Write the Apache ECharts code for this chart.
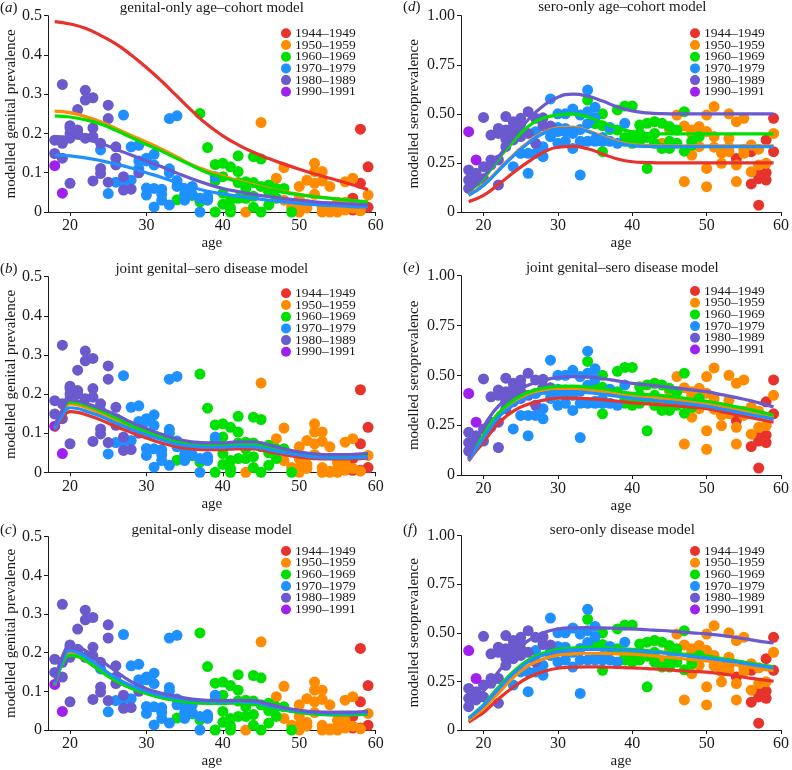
<!DOCTYPE html>
<html><head><meta charset="utf-8">
<script src="https://cdn.jsdelivr.net/npm/echarts@6/dist/echarts.min.js"></script>
<style>html,body{margin:0;padding:0;background:#fff}#c{width:792px;height:770px}</style>
</head><body><div id="c"></div>
<script>
// ---------- categories / ticks ----------
const cohorts = ['1944–1949','1950–1959','1960–1969','1970–1979','1980–1989','1990–1991'];
const cohortColors = ['#e8322c','#ff8c00','#00e000','#1e90ff','#6a5acd','#a020f0'];
const xTicks = [20,30,40,50,60];
const yTicksGenital = [0,0.1,0.2,0.3,0.4,0.5];
const yTicksSero = [0,0.25,0.5,0.75,1];

// ---------- observed genital prevalence (age, value) ----------
const g1944 = [[58,0.211],[59,0.115],[58,0.073],[57,0.035],[59,0.012],[58,0.005],[57,0.005]];
const g1950 = [[45,0.228],[47,0.086],[48,0.113],[48,0.03],[50,0.065],[50,0.035],[50,0.012],[51,0.081],[51,0.02],[51,0.01],[52,0.124],[52,0.103],[52,0.073],[52,0.045],[53,0.103],[53,0.079],[53,0.012],[54,0.065],[54,0.003],[55,0.025],[55,0.01],[56,0.077],[56,0.025],[57,0.086],[57,0.01],[58,0.003],[59,0.043],[43,0.0],[46,0.055],[49,0.012],[54,0.0],[56,0.005],[53,0.0],[55,0.0],[50,0.0]];
const g1960 = [[37,0.251],[38,0.164],[39,0.121],[40,0.124],[41,0.115],[42,0.143],[42,0.103],[44,0.141],[45,0.135],[34,0.031],[37,0.026],[36,0.042],[38,0.035],[39,0.0],[40,0.09],[40,0.048],[40,0.02],[41,0.03],[41,0.01],[41,0.0],[42,0.075],[42,0.035],[43,0.077],[43,0.035],[44,0.075],[44,0.012],[45,0.065],[45,0.0],[46,0.069],[46,0.018],[47,0.06],[47,0.035],[48,0.06],[49,0.0],[39,0.08],[43,0.06],[44,0.04],[46,0.05]];
const g1970 = [[27,0.247],[33,0.238],[34,0.245],[28,0.166],[29,0.17],[24,0.158],[30,0.137],[31,0.147],[31,0.12],[29,0.111],[30,0.13],[26,0.076],[27,0.077],[28,0.081],[25,0.047],[30,0.061],[30,0.043],[31,0.013],[32,0.058],[32,0.045],[32,0.03],[33,0.11],[33,0.1],[33,0.018],[34,0.08],[34,0.065],[35,0.06],[35,0.03],[36,0.065],[36,0.045],[37,0.035],[37,0.0],[38,0.04],[38,0.03],[39,0.09],[35,0.045],[29,0.13],[31,0.06]];
const g1980 = [[19,0.325],[22,0.31],[22,0.285],[23,0.291],[21,0.261],[25,0.272],[25,0.238],[20,0.22],[20,0.214],[21,0.209],[23,0.214],[18,0.183],[19,0.175],[20,0.188],[22,0.188],[23,0.192],[24,0.175],[26,0.166],[18,0.149],[19,0.137],[26,0.137],[26,0.12],[24,0.111],[24,0.098],[20,0.073],[23,0.079],[25,0.076],[27,0.056],[28,0.058],[29,0.1],[27,0.09],[21,0.2],[20,0.2]];
const g1990 = [[18,0.118],[19,0.048]];

// ---------- observed seroprevalence (age, value) ----------
const s1944 = [[59,0.477],[59,0.307],[58,0.367],[58,0.2],[58,0.163],[57,0.17],[57,0.19],[57,0.035],[56,0.307],[56,0.143],[54,0.273]];
const s1950 = [[43,0.46],[46,0.494],[47,0.438],[48,0.418],[49,0.435],[51,0.537],[50,0.494],[54,0.46],[55,0.477],[53,0.5],[47,0.155],[50,0.129],[50,0.222],[48,0.29],[49,0.333],[51,0.384],[52,0.316],[52,0.248],[53,0.375],[53,0.307],[54,0.239],[54,0.155],[55,0.299],[56,0.341],[56,0.205],[57,0.239],[58,0.248],[59,0.4],[44,0.35],[45,0.42],[49,0.4],[50,0.41],[51,0.33],[52,0.3],[53,0.33],[55,0.32],[57,0.32],[48,0.4]];
const s1960 = [[34,0.57],[36,0.5],[38,0.52],[39,0.54],[40,0.54],[41,0.443],[42,0.452],[43,0.46],[44,0.452],[45,0.435],[46,0.418],[47,0.511],[36,0.307],[42,0.222],[38,0.418],[40,0.35],[41,0.4],[43,0.35],[44,0.324],[45,0.324],[46,0.35],[47,0.31],[48,0.36],[49,0.384],[37,0.42],[39,0.38],[40,0.39],[42,0.38],[35,0.45],[36,0.44],[41,0.36],[48,0.34],[45,0.36],[39,0.36],[43,0.4]];
const s1970 = [[29,0.576],[34,0.621],[35,0.533],[30,0.5],[31,0.5],[32,0.525],[33,0.494],[34,0.511],[35,0.48],[39,0.452],[26,0.197],[33,0.188],[24,0.231],[25,0.299],[26,0.299],[27,0.299],[28,0.282],[29,0.384],[30,0.41],[31,0.426],[32,0.4],[30,0.35],[31,0.36],[32,0.324],[33,0.36],[34,0.36],[35,0.37],[36,0.38],[37,0.43],[38,0.35],[27,0.409],[28,0.333],[29,0.41],[30,0.43],[36,0.36],[37,0.36],[33,0.42],[34,0.45],[35,0.36],[31,0.41]];
const s1980 = [[18,0.214],[18,0.163],[18,0.12],[19,0.197],[19,0.17],[19,0.155],[20,0.482],[20,0.231],[20,0.17],[21,0.392],[21,0.265],[21,0.24],[22,0.426],[22,0.4],[22,0.138],[22,0.265],[23,0.486],[23,0.418],[23,0.333],[23,0.37],[24,0.46],[24,0.435],[24,0.367],[24,0.4],[25,0.477],[25,0.418],[25,0.384],[25,0.45],[26,0.511],[26,0.4],[27,0.477],[27,0.35],[28,0.44],[29,0.438],[28,0.48]];
const s1990 = [[18,0.409],[19,0.265]];

// ---------- model curves: ages at which values were read ----------
const knotsAD = [18,20,22,24,26,28,30,32,34,36,38,40,42,44,46,48,50,52,54,56,58,59];
const fitA1944 = [0.485,0.479,0.468,0.45,0.428,0.4,0.368,0.333,0.295,0.257,0.222,0.194,0.171,0.152,0.136,0.122,0.109,0.097,0.086,0.075,0.063,0.057];
const fitA1950 = [0.257,0.253,0.243,0.23,0.213,0.195,0.178,0.16,0.14,0.12,0.105,0.092,0.08,0.07,0.06,0.052,0.045,0.039,0.035,0.031,0.027,0.025];
const fitA1960 = [0.245,0.242,0.235,0.224,0.208,0.19,0.172,0.155,0.136,0.118,0.1,0.088,0.077,0.067,0.058,0.05,0.044,0.039,0.035,0.031,0.027,0.025];
const fitA1970 = [0.145,0.143,0.138,0.131,0.122,0.112,0.1,0.088,0.075,0.063,0.053,0.046,0.04,0.035,0.03,0.026,0.022,0.019,0.017,0.015,0.013,0.013];
const fitA1980 = [0.192,0.19,0.185,0.175,0.16,0.145,0.13,0.115,0.099,0.084,0.071,0.06,0.052,0.045,0.039,0.034,0.03,0.026,0.023,0.021,0.019,0.018];

const fitD1944 = [0.053,0.085,0.14,0.2,0.255,0.303,0.33,0.334,0.322,0.296,0.27,0.256,0.252,0.25,0.25,0.25,0.25,0.25,0.25,0.25,0.25,0.25];
const fitD1950 = [0.088,0.139,0.215,0.29,0.355,0.405,0.429,0.432,0.414,0.385,0.358,0.343,0.338,0.337,0.337,0.337,0.337,0.337,0.337,0.337,0.337,0.337];
const fitD1960 = [0.105,0.17,0.27,0.36,0.435,0.478,0.494,0.499,0.484,0.456,0.427,0.408,0.4,0.398,0.398,0.398,0.398,0.398,0.398,0.398,0.398,0.398];
const fitD1970 = [0.085,0.135,0.21,0.285,0.35,0.4,0.424,0.426,0.41,0.38,0.353,0.338,0.334,0.333,0.333,0.333,0.333,0.333,0.333,0.333,0.333,0.333];
const fitD1980 = [0.105,0.18,0.28,0.38,0.47,0.54,0.585,0.6,0.59,0.565,0.535,0.515,0.505,0.501,0.5,0.5,0.5,0.5,0.5,0.5,0.5,0.5];

const knotsBCEF = [18,19,20,21,22,24,26,28,30,32,34,36,38,40,42,44,46,48,50,52,54,56,58,59];
const fitB1944 = [0.105,0.138,0.155,0.153,0.148,0.134,0.117,0.102,0.088,0.075,0.065,0.06,0.058,0.058,0.06,0.06,0.053,0.045,0.039,0.035,0.034,0.034,0.035,0.036];
const fitB1950 = [0.113,0.152,0.175,0.172,0.166,0.151,0.134,0.116,0.101,0.087,0.076,0.07,0.067,0.067,0.069,0.068,0.061,0.052,0.046,0.041,0.039,0.039,0.04,0.041];
const fitB1960 = [0.115,0.155,0.18,0.178,0.172,0.157,0.139,0.12,0.105,0.09,0.079,0.073,0.07,0.07,0.072,0.071,0.064,0.055,0.048,0.043,0.041,0.041,0.042,0.043];
const fitB1970 = [0.11,0.145,0.165,0.163,0.157,0.143,0.126,0.11,0.096,0.083,0.072,0.067,0.064,0.064,0.066,0.065,0.058,0.05,0.044,0.039,0.037,0.037,0.038,0.039];
const fitB1980 = [0.12,0.16,0.185,0.183,0.177,0.163,0.147,0.128,0.112,0.097,0.085,0.078,0.075,0.075,0.078,0.078,0.07,0.06,0.052,0.047,0.045,0.045,0.047,0.048];

const fitC1944 = [0.116,0.173,0.195,0.191,0.181,0.153,0.128,0.109,0.095,0.084,0.077,0.072,0.07,0.07,0.071,0.069,0.06,0.052,0.046,0.042,0.04,0.04,0.041,0.042];
const fitC1950 = [0.118,0.175,0.198,0.194,0.184,0.156,0.13,0.111,0.097,0.086,0.079,0.074,0.071,0.071,0.072,0.07,0.061,0.053,0.047,0.043,0.041,0.041,0.042,0.043];
const fitC1960 = [0.115,0.172,0.193,0.19,0.18,0.152,0.127,0.108,0.094,0.083,0.076,0.071,0.069,0.069,0.07,0.068,0.059,0.051,0.045,0.041,0.039,0.039,0.04,0.041];
const fitC1970 = [0.12,0.18,0.205,0.2,0.19,0.162,0.135,0.115,0.1,0.089,0.082,0.077,0.074,0.073,0.074,0.072,0.063,0.055,0.049,0.045,0.043,0.043,0.044,0.045];
const fitC1980 = [0.125,0.19,0.215,0.215,0.205,0.18,0.152,0.125,0.107,0.095,0.087,0.08,0.077,0.076,0.077,0.076,0.067,0.058,0.051,0.047,0.046,0.046,0.047,0.048];

const fitE1944 = [0.07,0.12,0.165,0.215,0.26,0.32,0.355,0.375,0.385,0.386,0.383,0.378,0.37,0.362,0.357,0.352,0.347,0.34,0.333,0.318,0.303,0.288,0.272,0.265];
const fitE1950 = [0.078,0.135,0.195,0.25,0.3,0.365,0.405,0.425,0.433,0.433,0.428,0.421,0.41,0.4,0.393,0.386,0.378,0.368,0.358,0.345,0.33,0.315,0.298,0.29];
const fitE1960 = [0.08,0.14,0.2,0.26,0.31,0.375,0.415,0.435,0.445,0.446,0.441,0.433,0.421,0.41,0.404,0.398,0.39,0.38,0.37,0.357,0.342,0.327,0.309,0.3];
const fitE1970 = [0.075,0.13,0.185,0.24,0.29,0.35,0.39,0.41,0.418,0.418,0.413,0.405,0.395,0.385,0.378,0.371,0.363,0.354,0.345,0.331,0.317,0.302,0.288,0.28];
const fitE1980 = [0.083,0.17,0.24,0.3,0.345,0.41,0.45,0.475,0.49,0.494,0.492,0.484,0.472,0.46,0.452,0.444,0.436,0.427,0.418,0.403,0.388,0.372,0.352,0.342];

const fitF1944 = [0.04,0.065,0.09,0.125,0.16,0.22,0.27,0.3,0.318,0.323,0.325,0.324,0.322,0.32,0.316,0.312,0.306,0.302,0.298,0.29,0.278,0.266,0.256,0.252];
const fitF1950 = [0.05,0.08,0.11,0.15,0.19,0.27,0.33,0.365,0.385,0.392,0.395,0.394,0.392,0.39,0.384,0.378,0.37,0.362,0.355,0.345,0.335,0.322,0.31,0.305];
const fitF1960 = [0.06,0.095,0.13,0.175,0.22,0.3,0.36,0.395,0.415,0.422,0.425,0.424,0.42,0.415,0.409,0.402,0.394,0.387,0.38,0.368,0.356,0.343,0.331,0.325];
const fitF1970 = [0.06,0.092,0.125,0.168,0.21,0.29,0.35,0.385,0.405,0.412,0.415,0.415,0.413,0.41,0.403,0.397,0.388,0.379,0.37,0.36,0.35,0.337,0.325,0.32];
const fitF1980 = [0.14,0.17,0.2,0.25,0.3,0.39,0.46,0.5,0.52,0.526,0.527,0.526,0.523,0.52,0.516,0.512,0.506,0.5,0.495,0.487,0.476,0.464,0.452,0.448];

// ---------- text ----------
const titles = ['genital-only age–cohort model','joint genital–sero disease model','genital-only disease model',
                'sero-only age–cohort model','joint genital–sero disease model','sero-only disease model'];
const letters = ['a','b','c','d','e','f'];
const yNames = ['modelled genital prevalence','modelled seroprevalence'];

// ---------- layout (positions kept separate from data) ----------
const genitalPts = [g1944,g1950,g1960,g1970,g1980,g1990];
const seroPts = [s1944,s1950,s1960,s1970,s1980,s1990];
const panels = [
  {kind:0, knots:knotsAD,   fits:[fitA1944,fitA1950,fitA1960,fitA1970,fitA1980], left:48, top:15.7, w:327.7, h:196.3, xmin:17.12, lgL:281, lgT:26.3, tT:0.5, letL:0},
  {kind:0, knots:knotsBCEF, fits:[fitB1944,fitB1950,fitB1960,fitB1970,fitB1980], left:48, top:276.7, w:327.7, h:195.6, xmin:17.12, lgL:281, lgT:286.3, tT:261.5, letL:0},
  {kind:0, knots:knotsBCEF, fits:[fitC1944,fitC1950,fitC1960,fitC1970,fitC1980], left:48, top:536.7, w:327.7, h:195.6, xmin:17.12, lgL:281, lgT:544, tT:522.5, letL:0},
  {kind:1, knots:knotsAD,   fits:[fitD1944,fitD1950,fitD1960,fitD1970,fitD1980], left:461, top:15.7, w:322.7, h:196.3, xmin:16.97, lgL:690, lgT:26.3, tT:0, letL:403},
  {kind:1, knots:knotsBCEF, fits:[fitE1944,fitE1950,fitE1960,fitE1970,fitE1980], left:461, top:275.7, w:322.7, h:199.3, xmin:16.97, lgL:690, lgT:284, tT:261, letL:403},
  {kind:1, knots:knotsBCEF, fits:[fitF1944,fitF1950,fitF1960,fitF1970,fitF1980], left:461, top:535.7, w:322.7, h:199.3, xmin:16.97, lgL:690, lgT:544, tT:522.5, letL:403}
];

const FONT = 'Liberation Serif';
const INK = '#1a1a1a';
const grid = [], xAxis = [], yAxis = [], title = [], legend = [], series = [];

panels.forEach((p, i) => {
  grid.push({left:p.left, top:p.top, width:p.w, height:p.h, containLabel:false});
  xAxis.push({
    gridIndex:i, type:'value', min:p.xmin, max:60,
    name:'age', nameLocation:'middle', nameGap:24,
    nameTextStyle:{fontFamily:FONT, fontSize:15, color:INK},
    axisLine:{show:true, onZero:false, lineStyle:{color:INK, width:1}},
    axisTick:{show:true, length:4, customValues:xTicks, lineStyle:{color:INK}},
    axisLabel:{show:true, margin:6, customValues:xTicks, fontFamily:FONT, fontSize:16, color:INK},
    splitLine:{show:false}
  });
  const yt = p.kind === 0 ? yTicksGenital : yTicksSero;
  yAxis.push({
    gridIndex:i, type:'value', min:0, max:yt[yt.length-1], interval:yt[1],
    name: yNames[p.kind], nameLocation:'middle', nameGap: p.kind === 0 ? 28 : 39,
    nameTextStyle:{fontFamily:FONT, fontSize:15, color:INK},
    axisLine:{show:true, lineStyle:{color:INK, width:1}},
    axisTick:{show:true, length:4, lineStyle:{color:INK}},
    axisLabel:{margin:6, fontFamily:FONT, fontSize:16, color:INK,
      formatter: v => v === 0 ? '0' : (p.kind === 0 ? v.toFixed(1) : v.toFixed(2))},
    splitLine:{show:false}
  });
  title.push({text:titles[i], left:p.left + p.w/2, top:p.tT, textAlign:'center', padding:0,
    textStyle:{fontFamily:FONT, fontSize:15, fontWeight:'normal', color:INK}});
  title.push({text:'{p|(}{i|' + letters[i] + '}{p|)}', left:p.letL, top:p.tT, padding:0,
    textStyle:{fontFamily:FONT, fontSize:15, fontWeight:'normal', color:INK,
      rich:{p:{fontFamily:FONT, fontSize:15, color:INK}, i:{fontFamily:FONT, fontSize:15, fontStyle:'italic', color:INK}}}});
  legend.push({
    orient:'vertical', left:p.lgL, top:p.lgT, padding:0, itemGap:-2.3, itemWidth:10, itemHeight:10,
    selectedMode:false,
    data: cohorts.map(c => ({name:c, icon:'circle'})),
    textStyle:{fontFamily:FONT, fontSize:13.5, color:INK, lineHeight:12, padding:[0,0,0,-1]}
  });
  const pts = p.kind === 0 ? genitalPts : seroPts;
  cohorts.forEach((c, k) => {
    series.push({type:'scatter', name:c, xAxisIndex:i, yAxisIndex:i, data:pts[k],
      symbol:'circle', symbolSize:11, itemStyle:{color:cohortColors[k], opacity:1}, z:2, silent:true});
  });
  p.fits.forEach((f, k) => {
    series.push({type:'line', name:cohorts[k], xAxisIndex:i, yAxisIndex:i,
      data: p.knots.map((a, j) => [a, f[j]]),
      smooth:0.5, showSymbol:false, symbol:'none',
      lineStyle:{color:cohortColors[k], width:3.2},
      itemStyle:{color:cohortColors[k]}, z:3 + k, silent:true});
  });
});

const chart = echarts.init(document.getElementById('c'), null, {renderer:'canvas'});
chart.setOption({animation:false, backgroundColor:'#fff', grid, xAxis, yAxis, title, legend, series});
</script>
</body></html>
